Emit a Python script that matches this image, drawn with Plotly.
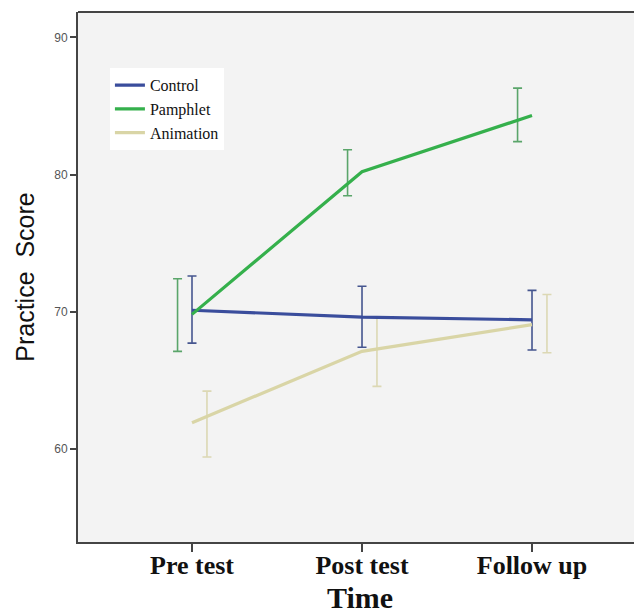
import plotly.graph_objects as go

categories = ["Pre test", "Post test", "Follow up"]
groups = ["Control", "Pamphlet", "Animation"]
means = {
    "Control": [70.1, 69.6, 69.4],
    "Pamphlet": [69.8, 80.2, 84.3],
    "Animation": [61.9, 67.1, 69.05],
}
upper = {
    "Control": [72.6, 71.85, 71.55],
    "Pamphlet": [72.4, 81.8, 86.3],
    "Animation": [64.2, 69.55, 71.25],
}
lower = {
    "Control": [67.7, 67.4, 67.2],
    "Pamphlet": [67.1, 78.45, 82.4],
    "Animation": [59.4, 64.55, 67.0],
}
y_ticks = [60, 70, 80, 90]

line_colors = {"Control": "#3a4d9c", "Pamphlet": "#35b04c", "Animation": "#d9d5a6"}
err_colors = {"Control": "#46568f", "Pamphlet": "#5aa56a", "Animation": "#dcd8b4"}
dodge = {"Control": 0.0, "Pamphlet": -0.085, "Animation": 0.088}

xpos = list(range(len(categories)))
fig = go.Figure()

for g in groups:
    mid = [(u + l) / 2 for u, l in zip(upper[g], lower[g])]
    fig.add_trace(go.Scatter(
        x=[x + dodge[g] for x in xpos],
        y=mid,
        mode="markers",
        marker=dict(size=1, opacity=0),
        error_y=dict(type="data", symmetric=False,
                     array=[u - m for u, m in zip(upper[g], mid)],
                     arrayminus=[m - l for l, m in zip(lower[g], mid)],
                     color=err_colors[g], thickness=1.6, width=4.5),
        showlegend=False, hoverinfo="skip"))

for g in groups:
    fig.add_trace(go.Scatter(
        x=xpos, y=means[g], mode="lines", name=g,
        line=dict(color=line_colors[g], width=3.2)))

fig.update_layout(
    width=642, height=614,
    margin=dict(l=78, r=0, t=12, b=72, autoexpand=False),
    paper_bgcolor="white",
    plot_bgcolor="#f3f3f3",
    showlegend=True,
    hovermode=False,
    legend=dict(
        x=0.0566, y=0.894, xanchor="left", yanchor="top",
        bgcolor="white", borderwidth=0,
        font=dict(family="Liberation Serif", size=16, color="#111"),
        traceorder="normal", tracegroupgap=0,
    ),
    xaxis=dict(
        range=[-0.6706, 2.647], tickvals=xpos, ticktext=categories,
        showgrid=False, zeroline=False,
        showline=True, linecolor="#444", linewidth=2,
        ticks="outside", ticklen=8, tickcolor="#444", tickwidth=1.5,
        ticklabelstandoff=-9,
        tickfont=dict(family="Liberation Serif", size=26, color="#111", weight="bold"),
        title=dict(text="<b>Time</b>", font=dict(family="Liberation Serif", size=30, color="#111"), standoff=22),
    ),
    yaxis=dict(
        range=[53.2, 91.85], tickvals=y_ticks,
        showgrid=False, zeroline=False,
        showline=True, linecolor="#444", linewidth=2,
        ticks="outside", ticklen=6, tickcolor="#444", tickwidth=1.5,
        tickfont=dict(family="Liberation Sans", size=12, color="#555"),
        title=dict(text="Practice  Score", font=dict(family="Liberation Sans", size=25, color="#111"), standoff=12),
    ),
    shapes=[dict(type="line", xref="paper", yref="paper", x0=0, x1=1, y0=1, y1=1,
                 line=dict(color="#444", width=2))],
)

fig.write_html("out.html", config={"displayModeBar": False},
               post_script="document.body.style.margin='0';document.body.style.overflow='hidden';"
                           "document.documentElement.style.overflow='hidden';")
